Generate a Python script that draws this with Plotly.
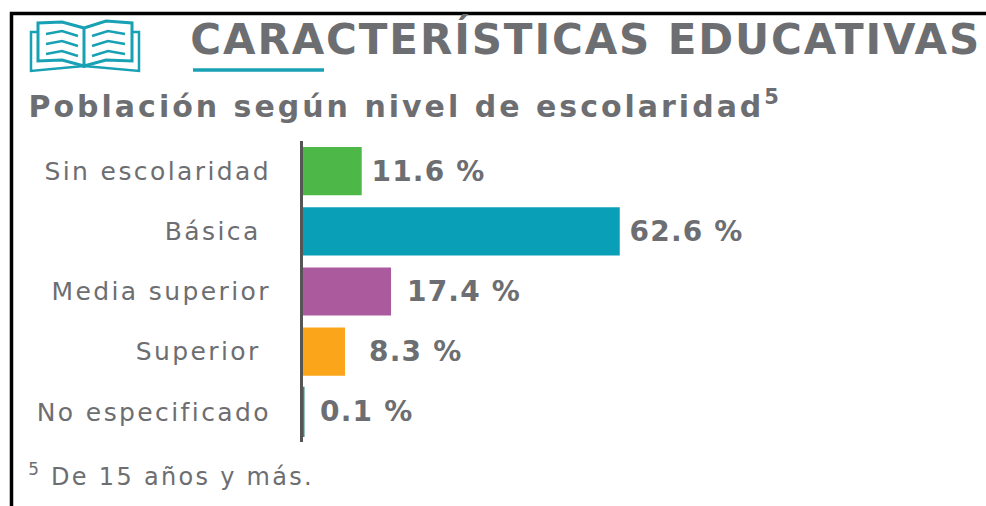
import plotly.graph_objects as go

categories = ["Sin escolaridad", "Básica", "Media superior", "Superior", "No especificado"]
category_labels = ["Sin escolaridad", "Básica\u00a0", "Media superior", "Superior\u00a0", "No especificado"]
values = [11.6, 62.6, 17.4, 8.3, 0.1]
value_labels = ["\u00a011.6 %", "\u00a062.6 %", "\u00a0\u200917.4 %", "\u00a0\u00a0\u200a8.3 %", "\u00a0\u20090.1 %"]
colors = ["#4DB848", "#09A0B7", "#AC5A9E", "#FBA51A", "#2E8B80"]
title = "CARACTERÍSTICAS EDUCATIVAS"
subtitle = "Población según nivel de escolaridad<sup>5</sup>"
footnote = "<sup>5</sup> De 15 años y más."

W, H = 986, 506
L, R, T, B = 303, 0, 141, 64
GREY = "#6D6E71"
TEAL = "#18A0B4"


def px(x):
    return (x - L) / (W - L - R)


def py(y):
    return 1 - (y - T) / (H - T - B)


def path(points, close=False):
    s = "M " + " L ".join(f"{px(x):.5f},{py(y):.5f}" for x, y in points)
    return s + (" Z" if close else "")


fig = go.Figure(
    go.Bar(
        y=categories,
        x=values,
        orientation="h",
        marker=dict(color=colors, line=dict(color=colors, width=[0, 0, 0, 0, 2])),
        text=value_labels,
        textposition="outside",
        constraintext="none",
        cliponaxis=False,
        textfont=dict(family="DejaVu Sans", size=28, color=GREY, weight="bold"),
        width=0.8,
        hoverinfo="skip",
    )
)

shapes = []


def line(points, color=TEAL, width=3, close=False):
    shapes.append(dict(type="path", xref="paper", yref="paper", path=path(points, close),
                       line=dict(color=color, width=width), layer="above"))


# page frame
line([(11.5, 506), (11.5, 13.5), (986, 13.5)], color="#000000", width=3.5)
# title rule
line([(193, 70), (324, 70)], width=3.5)
# book icon
line([(84, 68), (84, 28), (62, 22), (38, 23), (38, 61), (62, 60), (84, 66), (106, 60), (132, 61), (132, 23), (106, 21), (84, 28)])
line([(38, 32), (31, 32), (31, 71), (84, 66), (139, 71), (139, 32), (132, 32)], width=2.5)
for y in (34, 44, 54):
    line([(46, y), (62, y - 3), (78, y + 2)], width=2.5)
    line([(92, y + 2), (108, y - 3), (125, y)], width=2.5)

annotations = [
    dict(text=title, x=px(213), y=py(39), font=dict(family="DejaVu Sans", size=42, color=GREY, weight="bold")),
    dict(text=subtitle, x=px(82), y=py(104), font=dict(family="DejaVu Sans", size=30, color=GREY, weight="bold")),
    dict(text=footnote, x=px(48), y=py(475), font=dict(family="DejaVu Sans", size=24, color=GREY)),
]
for a in annotations:
    a.update(xref="paper", yref="paper", xanchor="left", yanchor="middle", showarrow=False)

fig.update_layout(
    width=W,
    height=H,
    margin=dict(l=L, r=R, t=T, b=B),
    paper_bgcolor="#FFFFFF",
    plot_bgcolor="#FFFFFF",
    showlegend=False,
    shapes=shapes,
    annotations=annotations,
    xaxis=dict(range=[0, (W - L - R) / 5.06], visible=False, fixedrange=True),
    yaxis=dict(
        categoryorder="array",
        categoryarray=categories[::-1],
        tickmode="array",
        tickvals=categories,
        ticktext=category_labels,
        showline=True,
        linecolor="#555555",
        linewidth=3,
        showgrid=False,
        ticks="outside",
        ticklen=24,
        tickcolor="rgba(0,0,0,0)",
        tickfont=dict(family="DejaVu Sans", size=25, color=GREY),
        fixedrange=True,
    ),
)

post = """
document.body.style.margin='0';
document.body.style.overflow='hidden';
document.head.insertAdjacentHTML('beforeend',
  '<style>.ytick text{letter-spacing:2.4px}.bartext{letter-spacing:1.2px}</style>');
var sp={'CARAC':'1.9px','Pobla':'3px','De 15':'2.3px'};
document.querySelectorAll('.annotation-text').forEach(function(t){
  Object.keys(sp).forEach(function(k){
    if(t.textContent.indexOf(k)>=0){t.style.letterSpacing=sp[k];}
  });
});
"""
fig.write_html("out.html", config={"displayModeBar": False}, post_script=post)
